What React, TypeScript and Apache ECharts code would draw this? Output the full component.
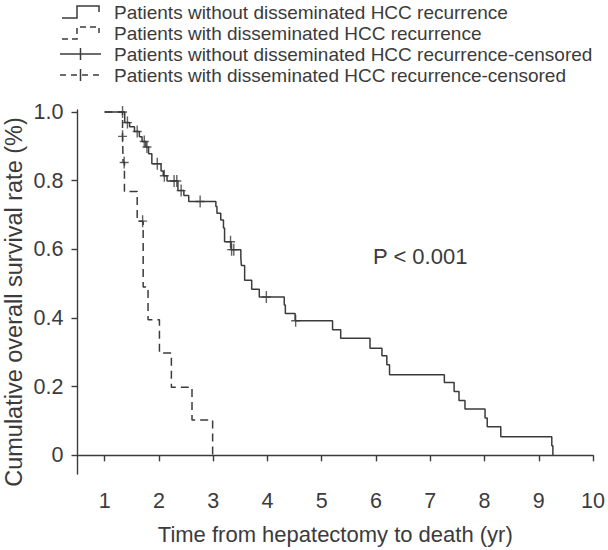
import React, { useEffect, useRef } from "react";
import * as echarts from "echarts";

// ---- data ----
const tickYears = [1, 2, 3, 4, 5, 6, 7, 8, 9, 10];
const tickRates = [0, 0.2, 0.4, 0.6, 0.8, 1.0];

// Patients without disseminated HCC recurrence (Kaplan-Meier steps)
const noDissemTimes = [
  1.0, 1.37, 1.46, 1.55, 1.64, 1.69, 1.76, 1.81, 1.87, 2.04, 2.08, 2.15, 2.35,
  2.46, 2.55, 3.05, 3.07, 3.14, 3.19, 3.21, 3.33, 3.51, 3.52, 3.58, 3.71, 3.85,
  4.31, 4.33, 4.51, 5.2, 5.35, 5.89, 6.11, 6.2, 6.25, 7.26, 7.44, 7.53, 7.64,
  8.01, 8.05, 8.3, 9.24, 9.26,
];
const noDissemSurv = [
  1.0, 0.969, 0.957, 0.943, 0.928, 0.914, 0.898, 0.878, 0.849, 0.828, 0.814,
  0.799, 0.771, 0.757, 0.739, 0.725, 0.705, 0.685, 0.662, 0.622, 0.599, 0.575,
  0.553, 0.51, 0.484, 0.461, 0.438, 0.413, 0.392, 0.366, 0.341, 0.312, 0.29,
  0.264, 0.235, 0.212, 0.186, 0.16, 0.135, 0.109, 0.083, 0.054, 0.028, 0.0,
];
const noDissemCensorTimes = [
  1.33, 1.42, 1.6, 1.73, 1.78, 1.97, 2.1, 2.28, 2.33, 2.41, 2.76, 3.32, 3.34,
  3.38, 3.98, 4.52,
];

// Patients with disseminated HCC recurrence
const dissemTimes = [1.0, 1.33, 1.34, 1.365, 1.6, 1.71, 1.8, 2.01, 2.23, 2.61, 2.99];
const dissemSurv = [1.0, 0.929, 0.853, 0.768, 0.682, 0.49, 0.395, 0.298, 0.198, 0.103, 0.0];
const dissemCensorTimes = [1.33, 1.36, 1.7];

const legendLabels = [
  "Patients without disseminated HCC recurrence",
  "Patients with disseminated HCC recurrence",
  "Patients without disseminated HCC recurrence-censored",
  "Patients with disseminated HCC recurrence-censored",
];
const pValueText = "P < 0.001";
const xTitle = "Time from hepatectomy to death (yr)";
const yTitle = "Cumulative overall survival rate (%)";

// ---- helpers ----
const survAt = (times: number[], surv: number[], t: number) => {
  let s = surv[0];
  for (let i = 0; i < times.length; i++) if (times[i] <= t) s = surv[i];
  return s;
};
const pairs = (xs: number[], ys: number[]) => xs.map((x, i) => [x, ys[i]]);

const INK = "#3b3b3b";
const FONT = "'Liberation Sans', Arial, sans-serif";
const FS_LEGEND = 19;
const FS_TICK = 21.5;
const FS_TITLE = 22;
const FS_YTITLE = 23.5;
const PLUS = "path://M3.8,0 L5.2,0 L5.2,12 L3.8,12 Z M0,5.3 L9,5.3 L9,6.7 L0,6.7 Z";

export default function App() {
  const ref = useRef<HTMLDivElement>(null);
  useEffect(() => {
    if (!ref.current) return;
    const chart = echarts.init(ref.current, null, { renderer: "svg" });

    const legendRows = [12, 33, 54, 75];
    const graphics: any[] = [];
    legendRows.forEach((y, i) => {
      if (i < 2) {
        graphics.push({
          type: "polyline",
          shape: { points: [[62, y + 6], [77, y + 6], [77, y - 6], [99, y - 6], [99, y]] },
          style: { stroke: INK, lineWidth: 1.5, fill: null, lineDash: i === 1 ? [6, 4] : null },
        });
      } else {
        graphics.push({
          type: "line",
          shape: { x1: 60, y1: y, x2: 101, y2: y },
          style: { stroke: INK, lineWidth: 1.5, lineDash: i === 3 ? [6, 5] : null },
        });
        graphics.push({
          type: "line",
          shape: { x1: 80.5, y1: y - 6, x2: 80.5, y2: y + 6 },
          style: { stroke: INK, lineWidth: 1.5 },
        });
      }
      graphics.push({
        type: "text",
        x: 114,
        y,
        style: {
          text: legendLabels[i],
          fill: INK,
          font: `${FS_LEGEND}px ${FONT}`,
          verticalAlign: "middle",
          align: "left",
        },
      });
    });
    graphics.push({
      type: "text",
      x: 373,
      y: 256,
      style: { text: pValueText, fill: INK, font: `${FS_TITLE}px ${FONT}`, verticalAlign: "middle" },
    });
    graphics.push({
      type: "text",
      x: 14,
      y: 302,
      rotation: Math.PI / 2,
      style: {
        text: yTitle,
        fill: INK,
        font: `${FS_YTITLE}px ${FONT}`,
        align: "center",
        verticalAlign: "middle",
      },
    });

    const axisCommon = {
      axisLine: { show: true, lineStyle: { color: INK, width: 1.4 } },
      axisTick: { show: true, length: 6, lineStyle: { color: INK, width: 1.4 } },
      splitLine: { show: false },
      nameTextStyle: { color: INK, fontSize: FS_TITLE, fontFamily: FONT },
    };

    chart.setOption({
      animation: false,
      backgroundColor: "#ffffff",
      textStyle: { fontFamily: FONT },
      grid: { left: 77.5, right: 12, top: 110, bottom: 70 },
      xAxis: {
        type: "value",
        min: 0.5,
        max: 10,
        ...axisCommon,
        axisTick: { ...axisCommon.axisTick, customValues: tickYears },
        axisLabel: { customValues: tickYears, color: INK, fontSize: FS_TICK, fontFamily: FONT, margin: 16 },
        name: xTitle,
        nameLocation: "middle",
        nameGap: 49,
      },
      yAxis: {
        type: "value",
        min: -0.0544,
        max: 1.0057,
        ...axisCommon,
        axisTick: { ...axisCommon.axisTick, customValues: tickRates },
        axisLabel: {
          customValues: tickRates,
          color: INK,
          fontSize: FS_TICK,
          fontFamily: FONT,
          margin: 14,
          formatter: (v: number) => (v === 0 ? "0" : v.toFixed(1)),
        },
      },
      graphic: graphics,
      series: [
        {
          type: "line",
          step: "end",
          data: pairs(noDissemTimes, noDissemSurv),
          symbol: "none",
          lineStyle: { color: INK, width: 1.5 },
        },
        {
          type: "line",
          step: "end",
          data: pairs(dissemTimes, dissemSurv),
          symbol: "none",
          lineStyle: { color: INK, width: 1.5, type: [8, 5] },
        },
        {
          type: "scatter",
          data: noDissemCensorTimes.map((t) => [t, survAt(noDissemTimes, noDissemSurv, t)]),
          symbol: PLUS,
          symbolSize: [9, 12],
          itemStyle: { color: INK },
        },
        {
          type: "scatter",
          data: dissemCensorTimes.map((t) => [t, survAt(dissemTimes, dissemSurv, t)]),
          symbol: PLUS,
          symbolSize: [9, 12],
          itemStyle: { color: INK },
        },
      ],
    });
    return () => chart.dispose();
  }, []);
  return <div ref={ref} style={{ width: 608, height: 550, position: "absolute", left: 0, top: 0 }} />;
}
